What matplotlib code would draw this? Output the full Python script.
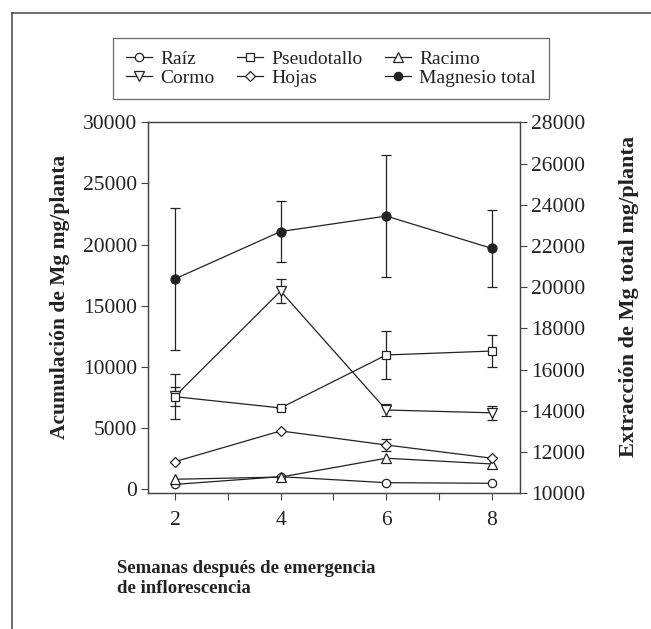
import matplotlib.pyplot as plt
from matplotlib.lines import Line2D

plt.rcParams["font.family"] = ["Liberation Serif", "DejaVu Serif"]

# --------------------------------------------------
# Data
# --------------------------------------------------

semanas = [2, 4, 6, 8]

raiz = [400, 1030, 540, 490]
pseudotallo = [7570, 6650, 10980, 11300]
pseudotallo_err = [1840, 0, 1950, 1340]
racimo = [820, 1000, 2540, 2070]
cormo = [7600, 16200, 6480, 6250]
cormo_err = [800, 1000, 500, 550]
hojas = [2260, 4770, 3620, 2540]
hojas_err = [0, 0, 500, 0]

mg_total = [20400, 22700, 23450, 21880]
mg_total_err = [3430, 1470, 2950, 1860]

# --------------------------------------------------
# Figure
# --------------------------------------------------

fig = plt.figure(figsize=(6.51, 6.29), dpi=100)
ax = fig.add_axes([0.2273, 0.2157, 0.5715, 0.5899])
ax2 = ax.twinx()

line_c = "#222222"
common = dict(color=line_c, lw=0.9, capsize=3.6, elinewidth=0.9,
              capthick=0.9, markeredgewidth=0.9, markeredgecolor=line_c)

ax.errorbar(semanas, raiz, marker="o", ms=6, mfc="white", **common)
ax.errorbar(semanas, racimo, marker="^", ms=6.5, mfc="white", **common)
ax.errorbar(semanas, hojas, yerr=hojas_err, marker="D", ms=5.5,
            mfc="white", **common)
ax.errorbar(semanas, cormo, yerr=cormo_err, marker="v", ms=6.5,
            mfc="white", **common)
ax.errorbar(semanas, pseudotallo, yerr=pseudotallo_err, marker="s", ms=6,
            mfc="white", **common)
ax2.errorbar(semanas, mg_total, yerr=mg_total_err, marker="o", ms=6.5,
             mfc=line_c, **common)

ax.set_xlim(1.49, 8.53)
ax.set_ylim(-330, 30000)
ax2.set_ylim(10000, 28000)

ax.set_xticks(semanas)
ax.set_xticks([3, 5, 7], minor=True)
ax.set_yticks(range(0, 30001, 5000))
ax2.set_yticks(range(10000, 28001, 2000))

for a in (ax, ax2):
    a.tick_params(direction="out", length=5, width=0.8, color="#444444",
                  labelsize=15.5, labelcolor="#222222", pad=3)
    a.tick_params(which="minor", direction="out", length=5, width=0.8,
                  color="#444444")
    for s in a.spines.values():
        s.set_color("#444444")
        s.set_linewidth(0.9)
ax.tick_params(axis="x", pad=8)

ax.set_ylabel("Acumulación de Mg mg/planta", fontsize=15.5,
              fontweight="bold", color="#222222")
ax.yaxis.set_label_coords(-0.21, 0.53)
ax2.set_ylabel("Extracción de Mg total mg/planta", fontsize=16,
               fontweight="bold", color="#222222", rotation=90)
ax2.yaxis.set_label_coords(1.265, 0.53)

fig.text(0.18, 0.110, "Semanas después de emergencia\nde inflorescencia",
         fontsize=13.5, fontweight="bold", color="#222222", ha="left",
         va="top", linespacing=1.25)

# --------------------------------------------------
# Legend
# --------------------------------------------------

def handle(marker, ms, fill):
    return Line2D([], [], color=line_c, lw=0.9, marker=marker, ms=ms,
                  mfc=fill, mec=line_c, mew=0.9)

handles = [
    handle("o", 6, "white"), handle("v", 6.5, "white"),
    handle("s", 6, "white"), handle("D", 5.5, "white"),
    handle("^", 6.5, "white"), handle("o", 6, line_c),
]
labels = ["Raíz", "Cormo", "Pseudotallo", "Hojas", "Racimo",
          "Magnesio total"]

leg = fig.legend(handles, labels, ncol=3, loc="upper left",
                 bbox_to_anchor=(0.174, 0.94), fontsize=14,
                 frameon=True, fancybox=False, edgecolor="#444444",
                 handlelength=1.35, handletextpad=0.42, columnspacing=1.15,
                 labelspacing=0.05, borderpad=0.65, borderaxespad=0)
leg.get_frame().set_linewidth(0.9)
for t in leg.get_texts():
    t.set_color("#222222")

# outer frame (top and left edges)
fig.add_artist(Line2D([0.018, 1.0], [0.980, 0.980], color="#555555",
                      lw=1.2, transform=fig.transFigure))
fig.add_artist(Line2D([0.018, 0.018], [0.0, 0.980], color="#555555",
                      lw=1.2, transform=fig.transFigure))

fig.savefig("out.png", dpi=100)
